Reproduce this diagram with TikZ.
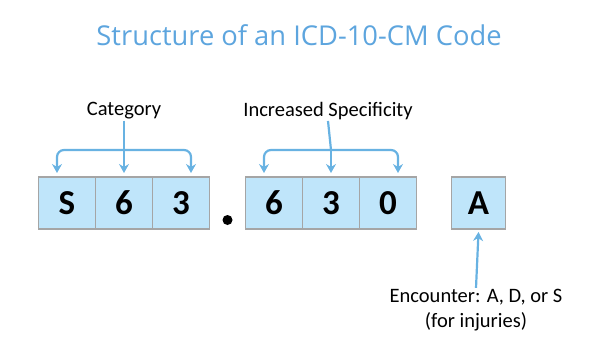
\documentclass[tikz,border=0pt]{standalone}
\usepackage{fontspec}
\setmainfont{Carlito}
\newfontfamily\titlefont{Open Sans}
\usetikzlibrary{arrows.meta,positioning,calc}
\definecolor{icdblue}{RGB}{93,165,222}
\definecolor{cellfill}{RGB}{191,229,250}
\definecolor{cellline}{RGB}{165,165,165}
\definecolor{arrowblue}{RGB}{104,178,226}

\begin{document}
\begin{tikzpicture}[
  x=1pt, y=-1pt,
  font=\fontsize{20.5}{25}\selectfont,
  node distance=0pt,
  cell/.style={draw=cellline, line width=1.8pt, fill=cellfill, minimum width=57pt, minimum height=52pt, inner sep=0pt, outer sep=0pt, font=\fontsize{35}{36}\selectfont\bfseries},
  lab/.style={inner sep=1pt, align=center},
  arrow/.style={-{Stealth[length=9pt, width=10pt, inset=3pt]}, arrowblue, line width=2.2pt, rounded corners=7pt},
  brace/.style={arrowblue, line width=2.2pt}
]
\useasboundingbox (0,0) rectangle (602,361);

% --- Title -------------------------------------------------------------------
\node[lab, text=icdblue, font=\titlefont\fontsize{27.3}{30}\selectfont] (title) at (299,35) {Structure of an ICD-10-CM Code};

% --- Code cells --------------------------------------------------------------
\node[cell] (c1) at (67,203) {S};
\node[cell, right=of c1] (c2) {6};
\node[cell, right=of c2] (c3) {3};
\node[cell, right=36pt of c3] (c4) {6};
\node[cell, right=of c4] (c5) {3};
\node[cell, right=of c5] (c6) {0};
\node[cell, right=35pt of c6, minimum width=54pt] (c7) {A};
\node[circle, fill=black, inner sep=0pt, minimum size=10pt] (dot) at ($(c3.east)!0.5!(c4.west) + (0,17)$) {};

% --- Labels ------------------------------------------------------------------
\node[lab] (cat) at (124,111) {Category};
\node[lab] (spec) at (328,111) {Increased Specificity};
\node[lab] (enc) at (476,310) {Encounter: A, D, or S\\(for injuries)};

% --- Braces with arrows ------------------------------------------------------
\coordinate (catbar) at (c2.north |- 0,150);
\draw[brace] (cat.south) -- (catbar);
\draw[arrow] (catbar) -| ([xshift=-67pt, yshift=4pt]c2.north);
\draw[arrow] (catbar) -| ([xshift=67pt, yshift=4pt]c2.north);
\draw[arrow] (catbar) -- ([yshift=4pt]c2.north);

\coordinate (specbar) at (c5.north |- 0,150);
\draw[brace] (spec.south) -- (specbar);
\draw[arrow] (specbar) -| ([xshift=-67pt, yshift=4pt]c5.north);
\draw[arrow] (specbar) -| ([xshift=67pt, yshift=4pt]c5.north);
\draw[arrow] (specbar) -- ([yshift=4pt]c5.north);

\draw[arrow] (enc.north) -- ([yshift=-3pt]c7.south);

\end{tikzpicture}
\end{document}
